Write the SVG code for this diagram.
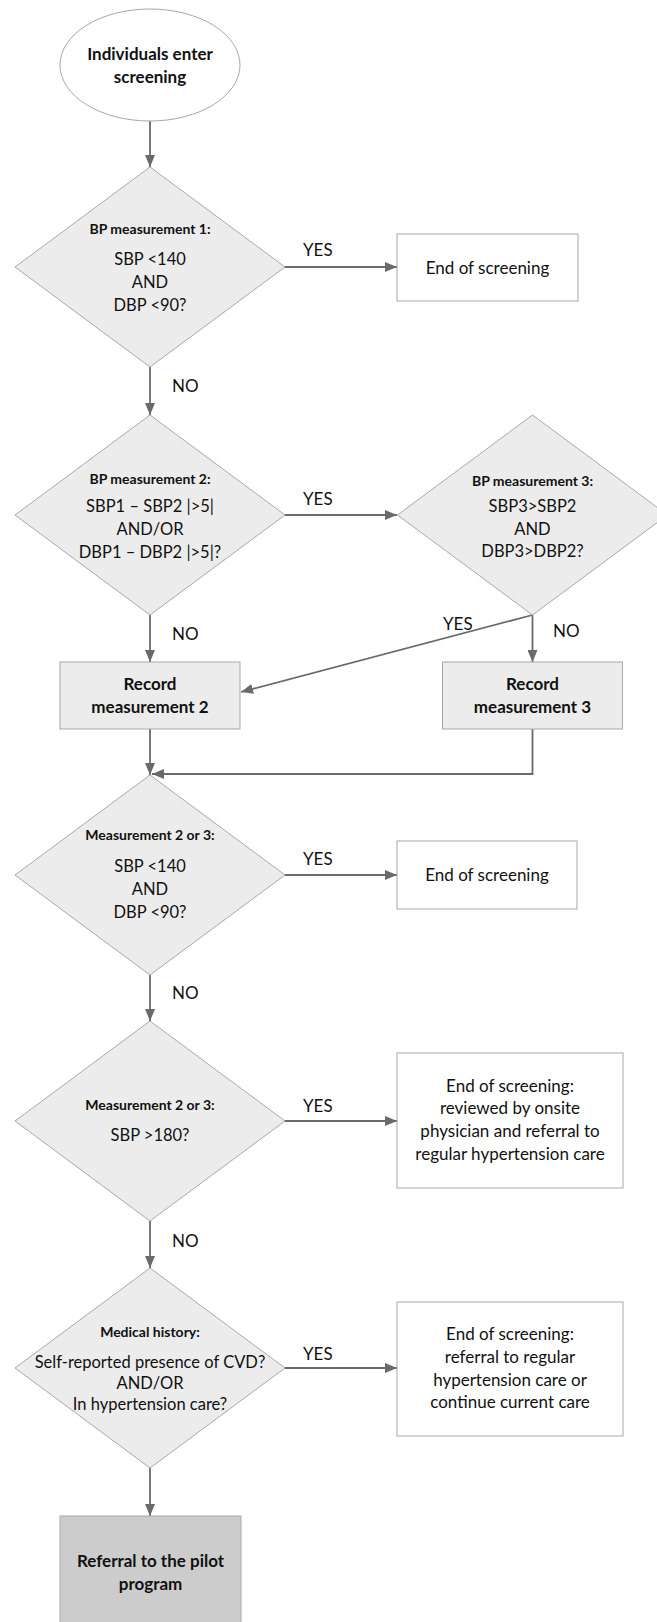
<svg xmlns="http://www.w3.org/2000/svg" width="657" height="1622" viewBox="0 0 657 1622">
<defs>
<style>
.bg{fill:#ffffff}
.dia{fill:#ececec;stroke:#a8a8a8;stroke-width:1}
.gbox{fill:#ececec;stroke:#a8a8a8;stroke-width:1}
.wbox{fill:#ffffff;stroke:#a8a8a8;stroke-width:1}
.dbox{fill:#cccccc;stroke:#a8a8a8;stroke-width:1}
text{font-family:Lato,"Liberation Sans",sans-serif;fill:#111111;text-anchor:middle}
.r{font-size:17px}
.r2{font-size:16.5px}
.h{font-size:14px;font-weight:bold}
.b{font-size:17px;font-weight:bold}
.lbl{font-size:17px;text-anchor:start}
.con{fill:none;stroke:#6a6a6a;stroke-width:1.8}
</style>
<marker id="ah" markerUnits="userSpaceOnUse" markerWidth="12" markerHeight="10" refX="12" refY="5" orient="auto">
<path d="M0,0 L12,5 L0,10 z" fill="#6a6a6a"/>
</marker>
</defs>
<rect class="bg" x="0" y="0" width="657" height="1622"/>

<g id="connectors">
<line class="con" x1="150" y1="121" x2="150" y2="167" marker-end="url(#ah)"/>
<line class="con" x1="285" y1="267" x2="397" y2="267" marker-end="url(#ah)"/>
<line class="con" x1="150" y1="367" x2="150" y2="415" marker-end="url(#ah)"/>
<line class="con" x1="285" y1="515" x2="397" y2="515" marker-end="url(#ah)"/>
<line class="con" x1="532.5" y1="615" x2="241" y2="692" marker-end="url(#ah)"/>
<line class="con" x1="532.5" y1="615" x2="532.5" y2="662" marker-end="url(#ah)"/>
<line class="con" x1="150" y1="615" x2="150" y2="662" marker-end="url(#ah)"/>
<line class="con" x1="150" y1="729" x2="150" y2="775" marker-end="url(#ah)"/>
<polyline class="con" points="532.5,729 532.5,774 152,774" marker-end="url(#ah)"/>
<line class="con" x1="285" y1="875" x2="397" y2="875" marker-end="url(#ah)"/>
<line class="con" x1="150" y1="975" x2="150" y2="1021" marker-end="url(#ah)"/>
<line class="con" x1="285" y1="1121" x2="397" y2="1121" marker-end="url(#ah)"/>
<line class="con" x1="150" y1="1221" x2="150" y2="1268" marker-end="url(#ah)"/>
<line class="con" x1="285" y1="1368" x2="397" y2="1368" marker-end="url(#ah)"/>
<line class="con" x1="150" y1="1468" x2="150" y2="1516" marker-end="url(#ah)"/>
<text class="lbl" x="303" y="256">YES</text>
<text class="lbl" x="172" y="392">NO</text>
<text class="lbl" x="303" y="505">YES</text>
<text class="lbl" x="172" y="640">NO</text>
<text class="lbl" x="443" y="630">YES</text>
<text class="lbl" x="553" y="637">NO</text>
<text class="lbl" x="303" y="865">YES</text>
<text class="lbl" x="172" y="999">NO</text>
<text class="lbl" x="303" y="1112">YES</text>
<text class="lbl" x="172" y="1247">NO</text>
<text class="lbl" x="303" y="1360">YES</text>
</g>

<g id="start">
<ellipse class="wbox" cx="150" cy="65" rx="90" ry="56"/>
<text class="b" x="150" y="60">Individuals enter</text>
<text class="b" x="150" y="83">screening</text>
</g>

<g id="bp1">
<polygon class="dia" points="150,167 285,267 150,367 15,267"/>
<text class="h" x="150" y="234">BP measurement 1:</text>
<text class="r2" x="150" y="265">SBP &lt;140</text>
<text class="r2" x="150" y="288">AND</text>
<text class="r2" x="150" y="311">DBP &lt;90?</text>
</g>

<g id="end1">
<rect class="wbox" x="397" y="234" width="181" height="67"/>
<text class="r" x="487.5" y="274">End of screening</text>
</g>

<g id="bp2">
<polygon class="dia" points="150,415 285,515 150,615 15,515"/>
<text class="h" x="150" y="484">BP measurement 2:</text>
<text class="r2" x="150" y="512">SBP1 – SBP2 |&gt;5|</text>
<text class="r2" x="150" y="535">AND/OR</text>
<text class="r2" x="150" y="558">DBP1 – DBP2 |&gt;5|?</text>
</g>

<g id="bp3">
<polygon class="dia" points="532.5,415 667.5,515 532.5,615 397.5,515"/>
<text class="h" x="532.5" y="486">BP measurement 3:</text>
<text class="r2" x="532.5" y="512">SBP3&gt;SBP2</text>
<text class="r2" x="532.5" y="535">AND</text>
<text class="r2" x="532.5" y="557">DBP3&gt;DBP2?</text>
</g>

<g id="rec2">
<rect class="gbox" x="60" y="662" width="180" height="67"/>
<text class="b" x="150" y="690">Record</text>
<text class="b" x="150" y="713">measurement 2</text>
</g>

<g id="rec3">
<rect class="gbox" x="442.5" y="662" width="180" height="67"/>
<text class="b" x="532.5" y="690">Record</text>
<text class="b" x="532.5" y="713">measurement 3</text>
</g>

<g id="m23a">
<polygon class="dia" points="150,775 285,875 150,975 15,875"/>
<text class="h" x="150" y="840">Measurement 2 or 3:</text>
<text class="r2" x="150" y="872">SBP &lt;140</text>
<text class="r2" x="150" y="895">AND</text>
<text class="r2" x="150" y="918">DBP &lt;90?</text>
</g>

<g id="end2">
<rect class="wbox" x="397" y="841" width="180" height="68"/>
<text class="r" x="487" y="881">End of screening</text>
</g>

<g id="m23b">
<polygon class="dia" points="150,1021 285,1121 150,1221 15,1121"/>
<text class="h" x="150" y="1110">Measurement 2 or 3:</text>
<text class="r2" x="150" y="1141">SBP &gt;180?</text>
</g>

<g id="end3">
<rect class="wbox" x="397" y="1053" width="226" height="135"/>
<text class="r" x="510" y="1092">End of screening:</text>
<text class="r" x="510" y="1114">reviewed by onsite</text>
<text class="r" x="510" y="1137">physician and referral to</text>
<text class="r" x="510" y="1160">regular hypertension care</text>
</g>

<g id="hist">
<polygon class="dia" points="150,1268 285,1368 150,1468 15,1368"/>
<text class="h" x="150" y="1337">Medical history:</text>
<text class="r2" x="150" y="1368">Self-reported presence of CVD?</text>
<text class="r2" x="150" y="1389">AND/OR</text>
<text class="r2" x="150" y="1410">In hypertension care?</text>
</g>

<g id="end4">
<rect class="wbox" x="397" y="1302" width="226" height="134"/>
<text class="r" x="510" y="1340">End of screening:</text>
<text class="r" x="510" y="1363">referral to regular</text>
<text class="r" x="510" y="1386">hypertension care or</text>
<text class="r" x="510" y="1408">continue current care</text>
</g>

<g id="pilot">
<rect class="dbox" x="60" y="1516" width="181" height="120"/>
<text class="b" x="150.5" y="1567">Referral to the pilot</text>
<text class="b" x="150.5" y="1590">program</text>
</g>
</svg>
